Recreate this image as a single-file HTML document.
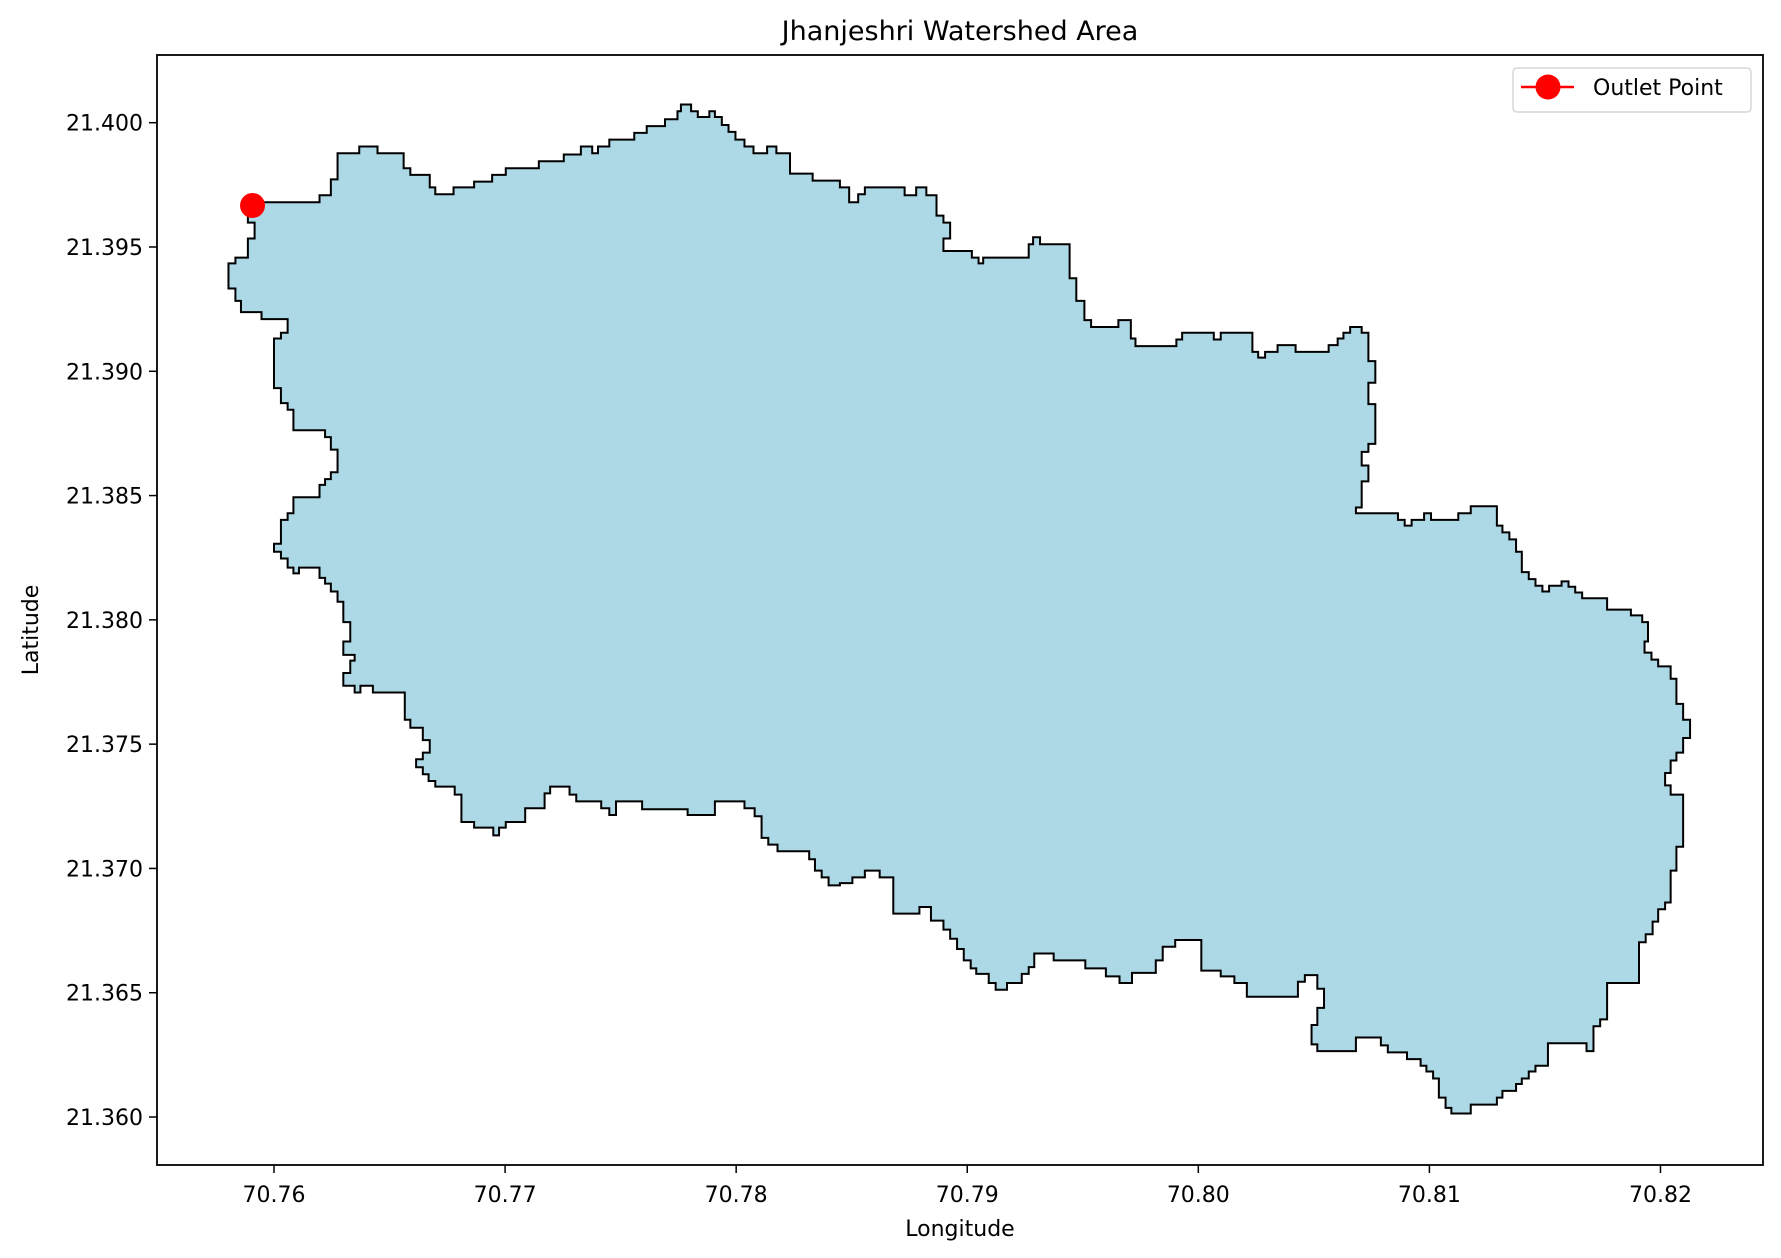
<!DOCTYPE html>
<html><head><meta charset="utf-8"><style>
html,body{margin:0;padding:0;background:#fff;}
svg{display:block;font-family:"DejaVu Sans","Liberation Sans",sans-serif;}
</style></head><body>
<svg id="chart" width="1781" height="1258" viewBox="0 0 1781 1258" xmlns="http://www.w3.org/2000/svg">
<rect x="0" y="0" width="1781" height="1258" fill="#fff"/>
<g id="plot"></g>
<text x="960" y="40" font-size="27" text-anchor="middle">Jhanjeshri Watershed Area</text>
<text x="960" y="1236" font-size="22" text-anchor="middle">Longitude</text>
<text x="38" y="630" font-size="22" text-anchor="middle" transform="rotate(-90 38 630)">Latitude</text>
<g>
<rect x="1513" y="68" width="238" height="44" rx="4" fill="#fff" stroke="#d6d6d6" stroke-width="1.5"/>
<line x1="1521" y1="87" x2="1574" y2="87" stroke="red" stroke-width="2.5"/>
<circle cx="1548" cy="87" r="12.5" fill="red"/>
<text x="1593" y="95" font-size="22">Outlet Point</text>
</g>
</svg>
<script>
const xTicks = [70.76, 70.77, 70.78, 70.79, 70.80, 70.81, 70.82];
const xTickLabels = ["70.76","70.77","70.78","70.79","70.80","70.81","70.82"];
const yTicks = [21.360, 21.365, 21.370, 21.375, 21.380, 21.385, 21.390, 21.395, 21.400];
const yTickLabels = ["21.360","21.365","21.370","21.375","21.380","21.385","21.390","21.395","21.400"];
const outletLon = [70.75907];
const outletLat = [21.39667];
const startLon = 70.75887;
const startLat = 21.39667;
const latSteps = [21.39680,21.39708,21.39772,21.39877,21.39904,21.39877,21.39817,21.39790,21.39740,21.39712,21.39740,21.39763,21.39790,21.39817,21.39845,21.39872,21.39904,21.39877,21.39904,21.39932,21.39959,21.39986,21.40014,21.40046,21.40073,21.40046,21.40023,21.40046,21.40023,21.39991,21.39963,21.39932,21.39904,21.39877,21.39904,21.39877,21.39795,21.39767,21.39740,21.39680,21.39712,21.39740,21.39708,21.39740,21.39708,21.39626,21.39598,21.39534,21.39484,21.39457,21.39434,21.39457,21.39511,21.39539,21.39511,21.39374,21.39283,21.39206,21.39178,21.39206,21.39132,21.39101,21.39128,21.39155,21.39128,21.39155,21.39078,21.39055,21.39078,21.39105,21.39078,21.39105,21.39132,21.39155,21.39178,21.39155,21.39041,21.38954,21.38868,21.38708,21.38676,21.38621,21.38557,21.38452,21.38429,21.38402,21.38379,21.38402,21.38429,21.38402,21.38429,21.38457,21.38379,21.38352,21.38324,21.38274,21.38192,21.38164,21.38137,21.38114,21.38137,21.38155,21.38133,21.38110,21.38087,21.38041,21.38018,21.37991,21.37913,21.37868,21.37840,21.37813,21.37763,21.37662,21.37598,21.37525,21.37466,21.37434,21.37384,21.37334,21.37297,21.37087,21.36991,21.36863,21.36836,21.36786,21.36735,21.36703,21.36539,21.36393,21.36365,21.36265,21.36297,21.36206,21.36183,21.36155,21.36133,21.36105,21.36078,21.36050,21.36014,21.36037,21.36078,21.36155,21.36183,21.36206,21.36233,21.36260,21.36288,21.36320,21.36265,21.36292,21.36370,21.36439,21.36516,21.36571,21.36544,21.36484,21.36539,21.36566,21.36589,21.36712,21.36685,21.36630,21.36580,21.36539,21.36566,21.36598,21.36630,21.36658,21.36603,21.36576,21.36539,21.36512,21.36539,21.36576,21.36598,21.36630,21.36676,21.36717,21.36754,21.36790,21.36845,21.36818,21.36964,21.36991,21.36964,21.36941,21.36932,21.36964,21.36991,21.37037,21.37069,21.37096,21.37123,21.37210,21.37242,21.37270,21.37215,21.37238,21.37270,21.37215,21.37242,21.37270,21.37297,21.37329,21.37302,21.37242,21.37187,21.37164,21.37133,21.37164,21.37187,21.37297,21.37329,21.37352,21.37379,21.37407,21.37439,21.37466,21.37516,21.37566,21.37598,21.37708,21.37735,21.37708,21.37735,21.37786,21.37836,21.37859,21.37913,21.37991,21.38073,21.38114,21.38146,21.38169,21.38210,21.38187,21.38210,21.38247,21.38274,21.38306,21.38402,21.38429,21.38493,21.38543,21.38566,21.38594,21.38685,21.38735,21.38763,21.38845,21.38872,21.38932,21.39132,21.39155,21.39210,21.39238,21.39283,21.39333,21.39434,21.39457,21.39534,21.39598,21.39667];
const lonSteps = [70.76197,70.76246,70.76275,70.76369,70.76448,70.76561,70.76590,70.76674,70.76698,70.76777,70.76866,70.76944,70.77003,70.77146,70.77254,70.77328,70.77377,70.77402,70.77451,70.77559,70.77613,70.77692,70.77746,70.77761,70.77805,70.77834,70.77884,70.77908,70.77938,70.77967,70.77997,70.78036,70.78075,70.78134,70.78174,70.78233,70.78331,70.78449,70.78489,70.78528,70.78557,70.78729,70.78779,70.78823,70.78867,70.78897,70.78926,70.78897,70.79020,70.79049,70.79069,70.79266,70.79285,70.79315,70.79443,70.79472,70.79507,70.79536,70.79654,70.79708,70.79728,70.79905,70.79930,70.80067,70.80097,70.80234,70.80259,70.80289,70.80343,70.80421,70.80564,70.80603,70.80628,70.80657,70.80707,70.80736,70.80766,70.80736,70.80766,70.80736,70.80707,70.80736,70.80707,70.80682,70.80864,70.80893,70.80923,70.80977,70.81007,70.81125,70.81179,70.81292,70.81316,70.81346,70.81375,70.81400,70.81430,70.81459,70.81489,70.81518,70.81572,70.81602,70.81631,70.81661,70.81769,70.81872,70.81921,70.81946,70.81931,70.81961,70.81990,70.82044,70.82069,70.82098,70.82128,70.82098,70.82069,70.82044,70.82020,70.82044,70.82098,70.82069,70.82044,70.82020,70.81990,70.81966,70.81936,70.81907,70.81769,70.81739,70.81710,70.81680,70.81513,70.81459,70.81430,70.81400,70.81375,70.81316,70.81292,70.81179,70.81095,70.81070,70.81041,70.81016,70.80987,70.80962,70.80903,70.80820,70.80790,70.80682,70.80515,70.80490,70.80515,70.80544,70.80515,70.80461,70.80431,70.80210,70.80156,70.80097,70.80013,70.79900,70.79846,70.79816,70.79713,70.79659,70.79600,70.79511,70.79374,70.79290,70.79266,70.79236,70.79172,70.79123,70.79093,70.79039,70.79015,70.78985,70.78956,70.78926,70.78897,70.78843,70.78793,70.78680,70.78621,70.78557,70.78503,70.78449,70.78400,70.78370,70.78341,70.78316,70.78179,70.78139,70.78110,70.78080,70.78036,70.77908,70.77790,70.77593,70.77480,70.77451,70.77416,70.77308,70.77279,70.77195,70.77171,70.77087,70.77003,70.76974,70.76949,70.76866,70.76811,70.76782,70.76698,70.76669,70.76644,70.76615,70.76644,70.76674,70.76644,70.76590,70.76566,70.76428,70.76374,70.76349,70.76300,70.76330,70.76349,70.76300,70.76330,70.76300,70.76275,70.76246,70.76221,70.76197,70.76108,70.76084,70.76059,70.76030,70.76000,70.76030,70.76059,70.76084,70.76197,70.76221,70.76246,70.76275,70.76246,70.76221,70.76084,70.76059,70.76030,70.76000,70.76030,70.76059,70.75946,70.75857,70.75833,70.75803,70.75833,70.75887,70.75916,70.75887];

const AX = {left:157, right:1763, top:55, bottom:1165};
function xScale(v){ return 274 + (v - 70.76) * 23108; }
function yScale(v){ return 122.7 + (21.400 - v) * 24858; }
const NS = "http://www.w3.org/2000/svg";
const plot = document.getElementById('plot');
function mk(tag, attrs){ const e = document.createElementNS(NS, tag); for (const k in attrs) e.setAttribute(k, attrs[k]); return e; }

let d = "M" + xScale(startLon).toFixed(2) + "," + yScale(startLat).toFixed(2);
for (let i = 0; i < latSteps.length; i++) {
  d += "V" + yScale(latSteps[i]).toFixed(2);
  if (i < lonSteps.length) d += "H" + xScale(lonSteps[i]).toFixed(2);
}
d += "Z";
const poly = mk('path', {d: d, fill: '#add8e6', stroke: '#000', 'stroke-width': 2, 'stroke-linejoin': 'miter'});


plot.appendChild(poly);

for (let i = 0; i < outletLon.length; i++) {
  const c = mk('circle', {cx: xScale(outletLon[i]), cy: yScale(outletLat[i]), r: 12.5, fill: 'red'});
  
  
  plot.appendChild(c);
}

const frame = mk('rect', {x: AX.left, y: AX.top, width: AX.right - AX.left, height: AX.bottom - AX.top, fill: 'none', stroke: '#000', 'stroke-width': 1.8});


plot.appendChild(frame);

xTicks.forEach((v, i) => {
  const x = xScale(v);
  const t = mk('line', {x1: x, y1: AX.bottom, x2: x, y2: AX.bottom + 8, stroke: '#000', 'stroke-width': 1.5});
  
  
  plot.appendChild(t);
  const l = mk('text', {x: x, y: AX.bottom + 37, 'font-size': 22, 'text-anchor': 'middle'});
  l.textContent = xTickLabels[i];
  
  
  plot.appendChild(l);
});
yTicks.forEach((v, i) => {
  const y = yScale(v);
  const t = mk('line', {x1: AX.left - 8, y1: y, x2: AX.left, y2: y, stroke: '#000', 'stroke-width': 1.5});
  
  
  plot.appendChild(t);
  const l = mk('text', {x: AX.left - 14, y: y + 8, 'font-size': 22, 'text-anchor': 'end'});
  l.textContent = yTickLabels[i];
  
  
  plot.appendChild(l);
});
</script>
</body></html>
